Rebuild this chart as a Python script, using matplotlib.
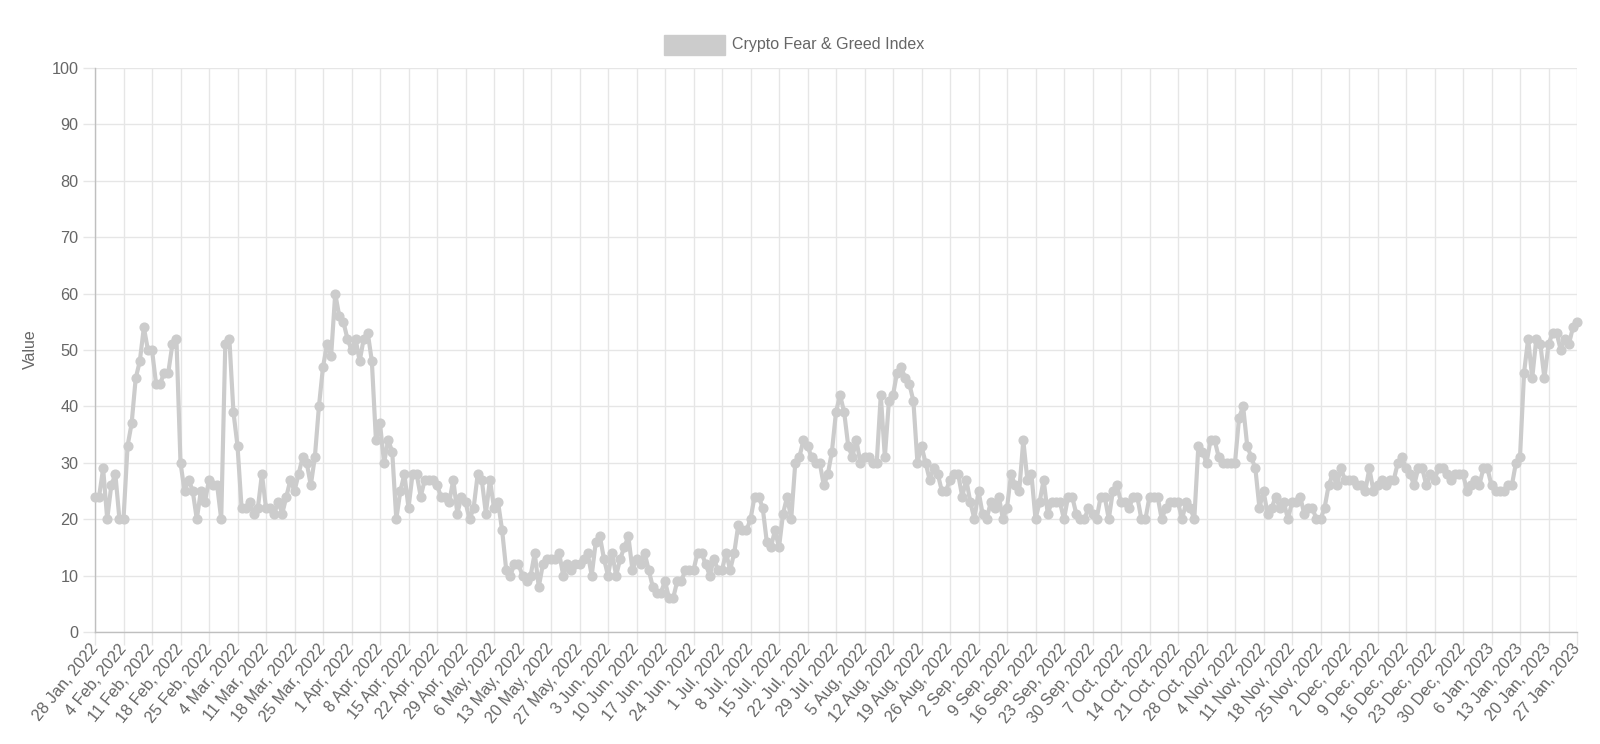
import matplotlib
matplotlib.use("Agg")
import matplotlib.pyplot as plt
from matplotlib.patches import Rectangle
import pandas as pd

plt.rcParams['font.family'] = ['Liberation Sans', 'DejaVu Sans']

# ---- data ----
dates = pd.date_range("2022-01-28", "2023-01-27", freq="D")
values_feb_mar = [24, 24, 29, 20, 26, 28, 20, 20, 33, 37, 45, 48, 54, 50, 50, 44, 44, 46, 46, 51,
                  52, 30, 25, 27, 25, 20, 25, 23, 27, 26, 26, 20, 51, 52]
values_mar_apr = [39, 33, 22, 22, 23, 21, 22, 28, 22, 22, 21, 23, 21, 24, 27, 25, 28, 31, 30, 26,
                  31, 40, 47, 51, 49, 60, 56, 55, 52, 50, 52, 48, 52, 53]
values_apr_may = [48, 34, 37, 30, 34, 32, 20, 25, 28, 22, 28, 28, 24, 27, 27, 27, 26, 24, 24, 23,
                  27, 21, 24, 23, 20, 22, 28, 27, 21, 27, 22, 23, 18, 11, 10]
values_may_jun = [12, 12, 10, 9, 10, 14, 8, 12, 13, 13, 13, 14, 10, 12, 11, 12, 12, 13, 14, 10,
                  16, 17, 13, 10, 14, 10, 13, 15, 17, 11, 13]
values_jun_jul = [12, 14, 11, 8, 7, 7, 9, 6, 6, 9, 9, 11, 11, 11, 14, 14, 12, 10, 13, 11,
                  11, 14, 11, 14, 19, 18, 18, 20, 24, 24, 22, 16, 15]
values_jul_aug = [18, 15, 21, 24, 20, 30, 31, 34, 33, 31, 30, 30, 26, 28, 32, 39, 42, 39, 33, 31,
                  34, 30, 31, 31, 30, 30, 42, 31, 41, 42, 46, 47, 45]
values_aug_sep = [44, 41, 30, 33, 30, 27, 29, 28, 25, 25, 27, 28, 28, 24, 27, 23, 20, 25, 21, 20,
                  23, 22, 24, 20, 22, 28, 26, 25, 34, 27, 28, 20, 23]
values_sep_oct = [27, 21, 23, 23, 23, 20, 24, 24, 21, 20, 20, 22, 21, 20, 24, 24, 20, 25, 26, 23,
                  23, 22, 24, 24, 20, 20, 24, 24, 24, 20, 22, 23, 23, 23, 20, 23, 22, 20]
values_oct_nov = [33, 32, 30, 34, 34, 31, 30, 30, 30, 30, 38, 40, 33, 31, 29, 22, 25, 21, 22, 24,
                  22, 23, 20, 23, 23, 24, 21, 22, 22]
values_nov_dec = [20, 20, 22, 26, 28, 26, 29, 27, 27, 27, 26, 26, 25, 29, 25, 26, 27, 26, 27, 27,
                  30, 31, 29, 28, 26, 29, 29, 26, 28, 27, 29, 29, 28]
values_dec_jan = [27, 28, 28, 28, 25, 26, 27, 26, 29, 29, 26, 25, 25, 25, 26, 26, 30, 31, 46, 52,
                  45, 52, 51, 45, 51, 53, 53, 50, 52, 51, 54, 55]

values = (values_feb_mar + values_mar_apr + values_apr_may + values_may_jun + values_jun_jul
          + values_jul_aug + values_aug_sep + values_sep_oct + values_oct_nov + values_nov_dec
          + values_dec_jan)
assert len(values) == len(dates), (len(values), len(dates))

series_label = "Crypto Fear & Greed Index"
y_label = "Value"
tick_step = 7
tick_positions = list(range(0, len(dates), tick_step))
tick_labels = [f"{d.day} {d.strftime('%b')}, {d.year}" for d in dates[::tick_step]]

# ---- figure ----
W, H = 1600, 744
fig = plt.figure(figsize=(W / 100, H / 100), dpi=100)
left, right, top, bottom = 95, 1577, 68, 632
ax = fig.add_axes([left / W, 1 - bottom / H, (right - left) / W, (bottom - top) / H])

line_color = "#cccccc"
x = list(range(len(values)))
ax.plot(x, values, color=line_color, lw=3.0, marker="o", ms=6.3,
        mfc=line_color, mec=line_color, solid_joinstyle="round", zorder=3, clip_on=False)

ax.set_xlim(0, len(values) - 1)
ax.set_ylim(0, 100)
ax.set_yticks(range(0, 101, 10))
ax.set_xticks(tick_positions)
ax.set_xticklabels(tick_labels, rotation=51, ha="right", va="center", rotation_mode="anchor")

grid_color = "#e6e6e6"
ax.grid(True, color=grid_color, lw=1, zorder=0)
ax.set_axisbelow(True)
ax.tick_params(axis="both", length=9, width=1, color=grid_color, labelcolor="#666666",
               labelsize=11.7)
ax.tick_params(axis="y", pad=3)
ax.tick_params(axis="x", pad=1)
for s in ["top", "right"]:
    ax.spines[s].set_visible(False)
for s in ["left", "bottom"]:
    ax.spines[s].set_color("#bfbfbf")
    ax.spines[s].set_linewidth(1)

# y label
fig.text(30 / W, 1 - 349 / H, y_label, rotation=90, ha="center", va="center",
         fontsize=11.5, color="#666666")

# legend
fig.add_artist(Rectangle((664 / W, 1 - 55 / H), 61 / W, 20 / H, transform=fig.transFigure,
                         facecolor=line_color, edgecolor=line_color, lw=1))
fig.text(732 / W, 1 - 45 / H, series_label, ha="left", va="center", fontsize=11.5,
         color="#666666")

fig.savefig("out.png", dpi=100)
